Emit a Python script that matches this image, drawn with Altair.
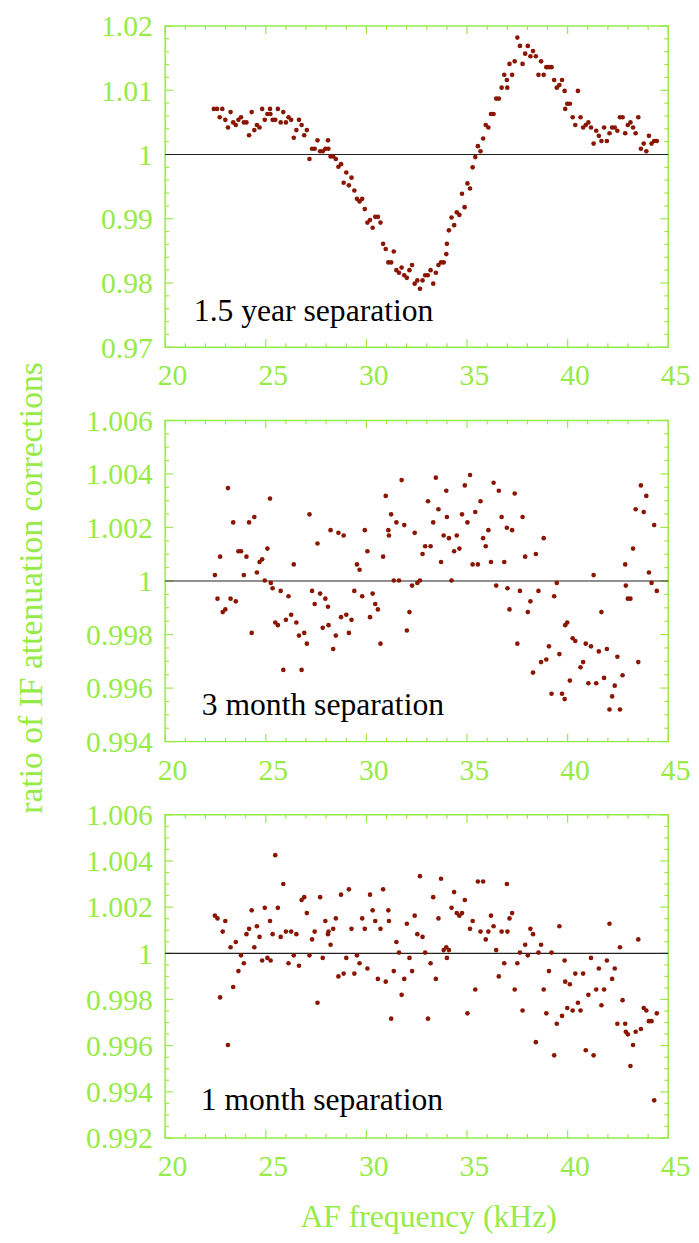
import altair as alt
import pandas as pd

GREEN = "#96eb46"
RED = "#8a1500"
FONT = "Liberation Serif"

# ---------------- panel A : 1.5 year separation ----------------
freq_a = [22.42, 22.58, 22.84, 22.71, 22.99, 23.12, 23.25, 23.38, 23.51, 23.64,
          23.77, 23.91, 24.04, 24.17, 24.30, 24.43, 24.56, 24.69, 24.82, 24.95,
          25.08, 25.21, 25.23, 25.34, 25.47, 25.60, 25.74, 25.87, 26.00, 26.13,
          26.26, 26.39, 26.52, 26.65, 26.78, 26.91, 27.04, 27.17, 27.30, 27.43,
          27.57, 27.70, 27.83, 27.96, 28.09, 28.11, 28.22, 28.35, 28.48, 28.61,
          28.74, 28.87, 29.00, 29.13, 29.26, 29.40, 29.53, 29.66, 29.79, 29.92,
          30.05, 30.18, 30.31, 30.44, 30.57, 30.70, 30.83, 30.96, 31.09, 31.23,
          31.36, 31.49, 31.62, 31.75, 31.88, 32.01, 32.14, 32.27, 32.40, 32.53,
          32.66, 32.79, 32.92, 33.05, 33.19, 33.32, 33.45, 33.58, 33.71, 33.84,
          33.97, 34.00, 34.10, 34.23, 34.36, 34.49, 34.62, 34.75, 34.88, 35.02,
          35.15, 35.28, 35.41, 35.54, 35.67, 35.80, 35.93, 36.06, 36.19, 36.32,
          36.45, 36.58, 36.72, 36.85, 36.98, 37.00, 37.11, 37.24, 37.37, 37.50,
          37.63, 37.76, 37.89, 38.02, 38.15, 38.28, 38.42, 38.55, 38.68, 38.81,
          38.94, 39.07, 39.20, 39.33, 39.46, 39.59, 39.72, 39.85, 39.88, 39.98,
          40.11, 40.25, 40.38, 40.51, 40.64, 40.77, 40.90, 41.03, 41.16, 41.29,
          41.42, 41.55, 41.68, 41.81, 41.95, 42.08, 42.21, 42.34, 42.47, 42.60,
          42.73, 42.86, 42.99, 43.12, 43.25, 43.38, 43.51, 43.64, 43.78, 43.91,
          44.04, 44.17, 44.30, 44.43]
ratio_a = [1.0071, 1.0071, 1.0071, 1.0058, 1.0054, 1.0042, 1.0066, 1.0050, 1.0046, 1.0054,
           1.0058, 1.0050, 1.0050, 1.0030, 1.0066, 1.0038, 1.0046, 1.0042, 1.0071, 1.0054,
           1.0063, 1.0071, 1.0063, 1.0054, 1.0054, 1.0071, 1.0050, 1.0066, 1.0050, 1.0058,
           1.0054, 1.0026, 1.0038, 1.0054, 1.0046, 1.0030, 1.0038, 0.9993, 1.0009, 1.0009,
           1.0022, 1.0005, 1.0005, 1.0009, 1.0022, 1.0009, 0.9997, 0.9997, 0.9993, 0.9981,
           0.9985, 0.9956, 0.9972, 0.9952, 0.9964, 0.9944, 0.9931, 0.9927, 0.9931, 0.9915,
           0.9894, 0.9898, 0.9886, 0.9903, 0.9903, 0.9894, 0.9861, 0.9853, 0.9832, 0.9832,
           0.9849, 0.9820, 0.9816, 0.9824, 0.9812, 0.9808, 0.9820, 0.9828, 0.9799, 0.9804,
           0.9791, 0.9804, 0.9812, 0.9812, 0.9820, 0.9799, 0.9816, 0.9828, 0.9832, 0.9832,
           0.9845, 0.9861, 0.9882, 0.9902, 0.9890, 0.9910, 0.9906, 0.9939, 0.9918, 0.9955,
           0.9947, 0.9980, 0.9996, 1.0013, 1.0005, 1.0025, 1.0046, 1.0042, 1.0063, 1.0063,
           1.0087, 1.0087, 1.0104, 1.0124, 1.0116, 1.0104, 1.0141, 1.0124, 1.0145, 1.0182,
           1.0169, 1.0141, 1.0157, 1.0169, 1.0153, 1.0161, 1.0153, 1.0124, 1.0145, 1.0124,
           1.0136, 1.0136, 1.0136, 1.0116, 1.0104, 1.0108, 1.0116, 1.0099, 1.0071, 1.0079,
           1.0079, 1.0058, 1.0046, 1.0099, 1.0058, 1.0042, 1.0046, 1.0050, 1.0042, 1.0017,
           1.0037, 1.0029, 1.0021, 1.0042, 1.0021, 1.0033, 1.0042, 1.0042, 1.0037, 1.0058,
           1.0058, 1.0033, 1.0046, 1.0050, 1.0042, 1.0033, 1.0058, 1.0009, 1.0017, 1.0005,
           1.0029, 1.0017, 1.0021, 1.0021]

# ---------------- panel B : 3 month separation ----------------
freq_b = [22.47, 22.60, 22.73, 22.86, 22.99, 23.12, 23.25, 23.38, 23.51, 23.64,
          23.77, 23.91, 24.04, 24.17, 24.30, 24.43, 24.56, 24.69, 24.82, 24.95,
          25.08, 25.21, 25.25, 25.34, 25.47, 25.60, 25.74, 25.87, 26.00, 26.13,
          26.26, 26.39, 26.52, 26.65, 26.78, 26.91, 27.04, 27.17, 27.30, 27.43,
          27.57, 27.70, 27.83, 27.96, 28.09, 28.12, 28.22, 28.35, 28.48, 28.61,
          28.74, 28.87, 29.00, 29.13, 29.26, 29.40, 29.53, 29.66, 29.79, 29.92,
          30.05, 30.18, 30.31, 30.44, 30.57, 30.70, 30.83, 30.96, 31.09, 31.12,
          31.23, 31.36, 31.49, 31.62, 31.75, 31.88, 32.01, 32.14, 32.27, 32.40,
          32.53, 32.66, 32.79, 32.92, 33.06, 33.19, 33.32, 33.45, 33.58, 33.71,
          33.84, 33.97, 34.00, 34.10, 34.23, 34.36, 34.49, 34.62, 34.75, 34.89,
          35.02, 35.15, 35.28, 35.41, 35.54, 35.67, 35.80, 35.93, 36.06, 36.19,
          36.32, 36.45, 36.58, 36.72, 36.85, 36.98, 37.01, 37.11, 37.24, 37.37,
          37.50, 37.63, 37.76, 37.89, 38.02, 38.15, 38.28, 38.42, 38.55, 38.68,
          38.81, 38.94, 39.07, 39.20, 39.33, 39.46, 39.59, 39.72, 39.85, 39.88,
          39.98, 40.11, 40.25, 40.38, 40.64, 40.77, 40.90, 41.03, 41.16, 41.29,
          41.42, 41.55, 41.68, 41.81, 41.95, 42.08, 42.21, 42.34, 42.47, 42.60,
          42.73, 42.86, 42.89, 42.99, 43.12, 43.25, 43.38, 43.51, 43.64, 43.78,
          43.91, 44.04, 44.17, 44.30, 44.43]
ratio_b = [1.00022, 0.99934, 1.00091, 0.99884, 0.99894, 1.00347, 0.99934, 1.00219, 0.99924, 1.00111,
           1.00111, 1.00022, 1.00091, 1.00219, 0.99806, 1.00239, 1.00032, 1.00071, 1.00081, 1.00002,
           1.00121, 1.00308, 0.99993, 0.99973, 0.99845, 0.99835, 0.99963, 0.99668, 0.99855, 0.99943,
           0.99874, 1.00062, 0.99845, 0.99796, 0.99668, 0.99806, 0.99766, 1.00249, 0.99963, 0.99914,
           1.00140, 0.99953, 0.99825, 0.99934, 0.99904, 0.99835, 1.00190, 0.99746, 0.99796, 1.00180,
           0.99865, 1.00170, 0.99874, 0.99806, 0.99855, 0.99963, 1.00062, 1.00042, 0.99943, 1.00190,
           1.00111, 0.99865, 0.99953, 0.99914, 0.99894, 0.99766, 1.00091, 1.00318, 1.00190, 1.00170,
           1.00249, 1.00002, 1.00219, 1.00002, 1.00377, 1.00209, 0.99815, 0.99884, 0.99983, 1.00180,
           0.99993, 1.00002, 1.00101, 1.00130, 1.00298, 1.00130, 1.00219, 1.00386, 1.00268, 1.00071,
           1.00170, 1.00337, 1.00239, 1.00160, 1.00002, 1.00111, 1.00170, 1.00121, 1.00249, 1.00357,
           1.00219, 1.00396, 1.00062, 1.00258, 1.00062, 1.00298, 1.00160, 1.00130, 1.00190, 1.00071,
           1.00367, 0.99983, 1.00337, 1.00239, 1.00071, 1.00199, 0.99973, 0.99894, 1.00190, 1.00327,
           0.99766, 0.99963, 1.00239, 1.00091, 0.99884, 0.99924, 0.99658, 1.00101, 0.99963, 0.99697,
           1.00160, 0.99707, 0.99756, 0.99579, 0.99943, 0.99993, 0.99727, 0.99579, 0.99559, 0.99835,
           0.99845, 0.99628, 0.99786, 0.99776, 0.99678, 0.99697, 0.99766, 0.99618, 0.99756, 1.00022,
           0.99618, 0.99737, 0.99884, 0.99638, 0.99746, 0.99520, 0.99569, 0.99609, 0.99717, 0.99520,
           0.99648, 1.00062, 0.99983, 0.99934, 0.99934, 1.00121, 1.00268, 0.99697, 1.00357, 1.00258,
           1.00318, 1.00032, 0.99993, 1.00209, 0.99963]

# ---------------- panel C : 1 month separation ----------------
freq_c = [22.47, 22.60, 22.73, 22.86, 22.99, 23.12, 23.25, 23.38, 23.51, 23.64,
          23.77, 23.91, 24.04, 24.17, 24.30, 24.43, 24.56, 24.69, 24.82, 24.95,
          25.08, 25.21, 25.24, 25.34, 25.47, 25.60, 25.74, 25.87, 26.00, 26.13,
          26.26, 26.39, 26.52, 26.65, 26.78, 26.91, 27.04, 27.17, 27.30, 27.43,
          27.57, 27.70, 27.83, 27.96, 28.09, 28.12, 28.22, 28.35, 28.48, 28.61,
          28.74, 28.87, 29.00, 29.13, 29.26, 29.40, 29.53, 29.66, 29.79, 29.92,
          30.05, 30.18, 30.31, 30.44, 30.57, 30.70, 30.83, 30.96, 31.09, 31.12,
          31.23, 31.36, 31.49, 31.62, 31.75, 31.88, 32.01, 32.14, 32.27, 32.40,
          32.53, 32.66, 32.79, 32.92, 33.06, 33.19, 33.32, 33.45, 33.58, 33.71,
          33.84, 33.97, 34.00, 34.10, 34.23, 34.36, 34.49, 34.62, 34.75, 34.89,
          35.02, 35.15, 35.28, 35.41, 35.54, 35.67, 35.80, 35.93, 36.06, 36.19,
          36.32, 36.45, 36.58, 36.72, 36.85, 36.98, 37.01, 37.11, 37.24, 37.37,
          37.50, 37.63, 37.76, 37.89, 38.02, 38.15, 38.28, 38.42, 38.55, 38.68,
          38.81, 38.94, 39.07, 39.20, 39.33, 39.46, 39.59, 39.72, 39.85, 39.88,
          39.98, 40.11, 40.25, 40.38, 40.51, 40.64, 40.77, 40.90, 41.03, 41.16,
          41.29, 41.42, 41.55, 41.68, 41.81, 41.95, 42.08, 42.21, 42.34, 42.47,
          42.60, 42.73, 42.86, 42.89, 42.99, 43.12, 43.25, 43.38, 43.51, 43.64,
          43.78, 43.91, 44.04, 44.17, 44.30, 44.43]
ratio_c = [1.00163, 1.00151, 0.99809, 1.00094, 1.00140, 0.99603, 1.00026, 0.99854, 1.00049, 0.99923,
           0.99991, 0.99957, 1.00083, 1.00106, 1.00186, 1.00026, 1.00117, 1.00071, 0.99969, 1.00197,
           0.99980, 1.00140, 0.99969, 1.00083, 1.00425, 1.00197, 1.00071, 1.00300, 1.00094, 0.99957,
           1.00094, 0.99991, 1.00083, 0.99946, 1.00231, 1.00243, 1.00174, 0.99991, 1.00060, 1.00094,
           0.99786, 1.00243, 0.99980, 1.00140, 1.00083, 1.00094, 1.00037, 1.00106, 1.00151, 0.99900,
           1.00254, 0.99912, 0.99980, 1.00277, 1.00106, 0.99912, 0.99991, 0.99957, 1.00151, 1.00106,
           0.99934, 1.00254, 1.00186, 1.00140, 0.99889, 1.00106, 1.00277, 0.99877, 1.00186, 1.00140,
           0.99717, 0.99923, 1.00049, 1.00003, 0.99820, 0.99889, 1.00128, 0.99980, 0.99923, 1.00163,
           1.00083, 1.00334, 1.00071, 1.00003, 0.99717, 0.99957, 1.00243, 0.99889, 1.00151, 1.00323,
           1.00014, 1.00026, 0.99980, 1.00014, 1.00197, 1.00265, 1.00174, 1.00163, 1.00174, 1.00231,
           0.99740, 1.00106, 1.00140, 0.99843, 1.00311, 1.00094, 1.00311, 1.00060, 1.00094, 1.00163,
           1.00117, 1.00014, 0.99900, 1.00094, 0.99957, 1.00300, 1.00094, 1.00151, 1.00174, 0.99843,
           0.99957, 1.00003, 0.99752, 1.00037, 0.99991, 1.00106, 1.00083, 0.99615, 1.00003, 1.00037,
           0.99843, 0.99740, 0.99923, 1.00003, 0.99558, 0.99695, 1.00117, 0.99729, 0.99969, 0.99877,
           0.99763, 0.99866, 0.99752, 0.99912, 0.99786, 0.99752, 0.99912, 0.99580, 0.99820, 0.99980,
           0.99558, 0.99843, 0.99934, 0.99775, 0.99843, 0.99969, 1.00128, 0.99889, 0.99934, 0.99695,
           1.00026, 0.99797, 0.99695, 0.99660, 0.99649, 0.99512, 0.99603, 0.99660, 1.00060, 0.99672,
           0.99763, 0.99752, 0.99706, 0.99706, 0.99363, 0.99740]

# ---------------- axes / tick values ----------------
x_major = [20, 25, 30, 35, 40, 45]
x_minor = [21, 22, 23, 24, 26, 27, 28, 29, 31, 32, 33, 34, 36, 37, 38, 39, 41, 42, 43, 44]
ya_major = [0.97, 0.98, 0.99, 1.0, 1.01, 1.02]
yb_major = [0.994, 0.996, 0.998, 1.0, 1.002, 1.004, 1.006]
yc_major = [0.992, 0.994, 0.996, 0.998, 1.0, 1.002, 1.004, 1.006]


def minors(lo, hi, step, majors):
    n = int(round((hi - lo) / step))
    vals = [round(lo + i * step, 6) for i in range(n + 1)]
    return [v for v in vals if all(abs(v - m) > step / 10 for m in majors)]


ya_minor = minors(0.97, 1.02, 0.002, ya_major)
yb_minor = minors(0.994, 1.006, 0.0005, yb_major)
yc_minor = minors(0.992, 1.006, 0.0005, yc_major)

W = 509
LBL = 30
NOTE = 32
XTTL = 32
YTTL = 34
MAJ = 8
MIN = 4
YLABEL_EXPR = "datum.value == 1 ? '1\u2008\u200a' : datum.label"


def panel(xs, ys, ymaj, ymin, domain, H, note, note_x, note_y, ytitle=None, xtitle=None):
    xsc = alt.Scale(domain=[20, 45], nice=False, zero=False)
    ysc = alt.Scale(domain=domain, nice=False, zero=False)

    xax = dict(values=x_major, format="~g", labelColor=GREEN, labelFont=FONT,
               labelFontSize=LBL, ticks=False, domain=False, grid=False,
               labelPadding=14, labelOffset=7, labelFlush=False, labelOverlap=False,
               title=None)
    if xtitle:
        xax.update(title=xtitle, titleColor=GREEN, titleFont=FONT, titleFontSize=XTTL,
                   titleFontWeight="normal", titleX=266, titleY=90,
                   titleBaseline="alphabetic", titleAlign="center")
    yax = dict(values=ymaj, format="~g", labelExpr=YLABEL_EXPR, labelColor=GREEN,
               labelFont=FONT, labelFontSize=LBL, ticks=False, domain=False,
               grid=False, labelPadding=13, labelOffset=1, labelFlush=False,
               labelOverlap=False, title=None)
    if ytitle:
        yax.update(title=ytitle, titleColor=GREEN, titleFont=FONT, titleFontSize=YTTL,
                   titleFontWeight="normal", titleX=-125, titleY=169, titleAngle=270,
                   titleBaseline="alphabetic", titleAlign="center")
    XA = alt.Axis(**xax)
    YA = alt.Axis(**yax)

    layers = []
    for vals, ln in ((x_major, MAJ), (x_minor, MIN)):
        d = alt.Chart(pd.DataFrame({"t": vals})).mark_rule(color=GREEN, strokeWidth=1.2)
        layers.append(d.encode(x=alt.X("t:Q", scale=xsc, axis=XA),
                               y=alt.value(H), y2=alt.value(H - ln)))
        layers.append(d.encode(x=alt.X("t:Q", scale=xsc, axis=XA),
                               y=alt.value(0), y2=alt.value(ln)))
    for vals, ln in ((ymaj, MAJ), (ymin, MIN)):
        d = alt.Chart(pd.DataFrame({"t": vals})).mark_rule(color=GREEN, strokeWidth=1.2)
        layers.append(d.encode(y=alt.Y("t:Q", scale=ysc, axis=YA),
                               x=alt.value(0), x2=alt.value(ln)))
        layers.append(d.encode(y=alt.Y("t:Q", scale=ysc, axis=YA),
                               x=alt.value(W), x2=alt.value(W - ln)))

    hline = alt.Chart(pd.DataFrame({"one": [1.0]})).mark_rule(
        color="#222222", strokeWidth=1.2).encode(y=alt.Y("one:Q", scale=ysc, axis=YA))
    layers.append(hline)

    pts = alt.Chart(pd.DataFrame({"f": xs, "r": ys})).mark_circle(
        size=22, color=RED, opacity=1).encode(
        x=alt.X("f:Q", scale=xsc, axis=XA),
        y=alt.Y("r:Q", scale=ysc, axis=YA))
    layers.append(pts)

    txt = alt.Chart(pd.DataFrame({"s": [note]})).mark_text(
        align="left", baseline="alphabetic", font=FONT, fontSize=NOTE, color="black"
    ).encode(x=alt.value(note_x), y=alt.value(note_y), text="s:N")
    layers.append(txt)

    return alt.layer(*layers).properties(width=W, height=H)


pA = panel(freq_a, ratio_a, ya_major, ya_minor, [0.97, 1.02], 325,
           "1.5 year separation", 29, 298)
pB = panel(freq_b, ratio_b, yb_major, yb_minor, [0.994, 1.006], 325,
           "3 month separation", 37, 298, ytitle="ratio of IF attenuation corrections")
pC = panel(freq_c, ratio_c, yc_major, yc_minor, [0.992, 1.006], 327,
           "1 month separation", 36, 299, xtitle="AF frequency (kHz)")

chart = alt.vconcat(pA, pB, pC, spacing=74, bounds="flush").configure_view(
    stroke=GREEN, strokeWidth=1.5
).properties(
    padding={"left": 6, "top": -4, "right": 0, "bottom": 0},
    background="white",
)

chart.save("out.html", embed_options={"renderer": "svg", "actions": False})
